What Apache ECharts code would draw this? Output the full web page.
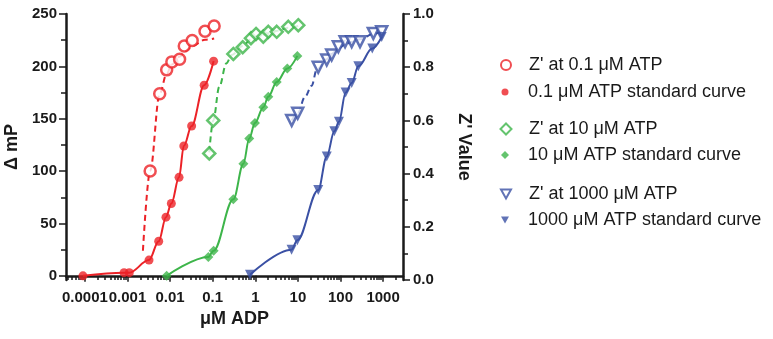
<!DOCTYPE html>
<html>
<head>
<meta charset="utf-8">
<script src="https://cdn.jsdelivr.net/npm/echarts@6/dist/echarts.min.js"></script>
<style>
  html, body { margin: 0; background: #fff; }
  #chart { width: 773px; height: 339px; }
</style>
</head>
<body>
<div id="chart"></div>
<script>
// axis ticks
const xTickValues = [0.0001, 0.001, 0.01, 0.1, 1, 10, 100, 1000];
const xTickLabels = ['0.0001', '0.001', '0.01', '0.1', '1', '10', '100', '1000'];
const leftTicks = [0, 50, 100, 150, 200, 250];
const leftMinorTicks = [25, 75, 125, 175, 225];

// 0.1 uM ATP
const redStdX = [0.00009, 0.00083, 0.0011, 0.0032, 0.0054, 0.008, 0.0107, 0.0162, 0.021, 0.032, 0.063, 0.105];
const redStdY = [0, 3, 3, 15, 33, 56, 69, 94, 124, 143, 182, 205];
const redZX = [0.0034, 0.0057, 0.0083, 0.011, 0.0167, 0.0215, 0.033, 0.066, 0.108];
const redZY = [0.41, 0.70, 0.79, 0.82, 0.83, 0.88, 0.90, 0.935, 0.955];
const redFitX = [0.0023, 0.0034, 0.0057, 0.0083, 0.011, 0.017, 0.022, 0.033, 0.066, 0.108];
const redFitY = [0.11, 0.41, 0.70, 0.775, 0.81, 0.84, 0.86, 0.88, 0.903, 0.908];

// 10 uM ATP
const greenStdX = [0.0083, 0.079, 0.105, 0.305, 0.525, 0.72, 0.98, 1.54, 2.02, 3.18, 5.64, 9.7];
const greenStdY = [0, 18, 24, 73, 107, 131, 146, 161, 171, 185, 198, 210];
const greenZX = [0.083, 0.103, 0.305, 0.506, 0.79, 1.04, 1.54, 2.02, 3.18, 5.95, 10.2];
const greenZY = [0.476, 0.60, 0.85, 0.875, 0.909, 0.925, 0.915, 0.933, 0.933, 0.952, 0.958];
const greenFitX = [0.083, 0.103, 0.143, 0.21, 0.28, 0.5, 0.8, 1.5, 3, 6, 10.2];
const greenFitY = [0.48, 0.60, 0.727, 0.815, 0.846, 0.88, 0.905, 0.922, 0.936, 0.948, 0.955];

// 1000 uM ATP
const blueStdX = [0.75, 7.1, 9.7, 30, 47.5, 71.6, 92, 132, 183, 262, 557, 927];
const blueStdY = [1, 25, 34, 82, 114, 138, 147, 175, 184, 200, 217, 228];
const blueZX = [7.15, 9.9, 30, 47.5, 62, 89, 128, 183, 287, 589, 927];
const blueZY = [0.60, 0.627, 0.80, 0.827, 0.846, 0.877, 0.896, 0.896, 0.896, 0.927, 0.933];
const blueFitX = [7.15, 9.9, 14.7, 21, 27.6, 47.5, 62, 89, 128, 183, 287, 589, 930];
const blueFitY = [0.60, 0.627, 0.689, 0.73, 0.79, 0.83, 0.85, 0.87, 0.885, 0.895, 0.905, 0.925, 0.935];

const RED = '#ec2227';
const GREEN = '#3db54a';
const BLUE = '#3a50a4';
const INK = '#1a1a1a';
const FONT = '"Liberation Sans", Arial, sans-serif';

const zip = (xs, ys) => xs.map((x, i) => [x, ys[i]]);

// minor log ticks 2..9 per decade
const xMinorTicks = [];
for (let k = -5; k <= 3; k++) {
  for (let d = 2; d <= 9; d++) {
    const v = d * Math.pow(10, k);
    if (v > 3.6e-5 && v < 2930) xMinorTicks.push(v);
  }
}

const curve = (data, yAxisIndex, color, dashed) => ({
  type: 'line',
  data: data,
  yAxisIndex: yAxisIndex,
  showSymbol: false,
  smooth: 0.35,
  smoothMonotone: 'x',
  silent: true,
  z: 2,
  lineStyle: { color: color, width: 2, type: dashed ? [6, 4] : 'solid' }
});

const marks = (name, data, yAxisIndex, symbol, size, color, open) => ({
  name: name,
  type: 'scatter',
  data: data,
  yAxisIndex: yAxisIndex,
  symbol: symbol,
  symbolSize: size,
  symbolRotate: symbol === 'triangle' ? 180 : 0,
  z: 3,
  itemStyle: open
    ? { color: '#fff', borderColor: color, borderWidth: 2.5 }
    : { color: color }
});

const names = [
  "Z' at 0.1 μM ATP", '0.1 μM ATP standard curve',
  "Z' at 10 μM ATP", '10 μM ATP standard curve',
  "Z' at 1000 μM ATP", '1000 μM ATP standard curve'
];
const legendRows = [65, 92, 129, 155, 194, 220];
const legendSizes = [10, 7, 11, 8, 10, 8];
const downTri = 'path://M0,0L10,0L5,9Z';
const legendIcons = ['circle', 'circle', 'diamond', 'diamond', downTri, downTri];
const legendIconX = 505;
const legendTextX = 528;

const chart = echarts.init(document.getElementById('chart'), null, { renderer: 'canvas' });

const option = {
  animation: false,
  backgroundColor: '#fff',
  grid: { left: 66, right: 370, top: 14, bottom: 59 },
  legend: names.map((n, i) => ({
    data: [{ name: n, icon: legendIcons[i] }],
    left: legendIconX - legendSizes[i] / 2,
    top: legendRows[i] - 9,
    padding: 0,
    itemWidth: legendSizes[i],
    itemHeight: legendSizes[i],
    selectedMode: false,
    textStyle: {
      fontSize: 18, fontFamily: FONT, color: INK, lineHeight: 18,
      padding: [0, 0, 0, legendTextX - (legendIconX + legendSizes[i] / 2 + 5)]
    }
  })),
  xAxis: [
    {
      type: 'log',
      logBase: 10,
      min: 3.6e-5,
      max: 2930,
      name: 'μM ADP',
      nameLocation: 'middle',
      nameGap: 30,
      nameTextStyle: { fontSize: 18, fontWeight: 'bold', fontFamily: FONT, color: INK },
      axisLine: { lineStyle: { color: INK, width: 2.5 } },
      axisTick: { customValues: xTickValues, length: 6, lineStyle: { color: INK, width: 1.5 } },
      axisLabel: {
        customValues: xTickValues,
        margin: 10,
        fontSize: 15,
        fontWeight: 'bold',
        fontFamily: FONT,
        color: INK,
        formatter: v => xTickLabels[Math.round(Math.log10(v)) + 4]
      },
      splitLine: { show: false }
    },
    {
      type: 'log',
      logBase: 10,
      min: 3.6e-5,
      max: 2930,
      axisLine: { show: false },
      axisTick: { customValues: xMinorTicks, length: 4, lineStyle: { color: INK, width: 1.5 } },
      axisLabel: { show: false },
      splitLine: { show: false }
    }
  ],
  yAxis: [
    {
      type: 'value',
      min: -4,
      max: 250,
      name: 'Δ mP',
      nameLocation: 'middle',
      nameGap: 45,
      nameTextStyle: { fontSize: 18, fontWeight: 'bold', fontFamily: FONT, color: INK },
      axisLine: { show: true, lineStyle: { color: INK, width: 2.5 } },
      axisTick: { show: true, customValues: leftTicks, length: 7, lineStyle: { color: INK, width: 1.5 } },
      axisLabel: { customValues: leftTicks, margin: 9, fontSize: 15, fontWeight: 'bold', fontFamily: FONT, color: INK },
      splitLine: { show: false }
    },
    {
      type: 'value',
      position: 'right',
      min: 0,
      max: 1,
      interval: 0.2,
      name: "Z' Value",
      nameLocation: 'middle',
      nameRotate: -90,
      nameGap: 52,
      nameTextStyle: { fontSize: 18, fontWeight: 'bold', fontFamily: FONT, color: INK },
      axisLine: { show: true, lineStyle: { color: INK, width: 2.5 } },
      axisTick: { show: true, length: 7, lineStyle: { color: INK, width: 1.5 } },
      minorTick: { show: true, splitNumber: 2, length: 5, lineStyle: { color: INK, width: 1.5 } },
      axisLabel: {
        margin: 10, fontSize: 15, fontWeight: 'bold', fontFamily: FONT, color: INK,
        formatter: v => v.toFixed(1)
      },
      splitLine: { show: false }
    },
    {
      type: 'value',
      position: 'left',
      min: -4,
      max: 250,
      axisLine: { show: false },
      axisTick: { show: true, customValues: leftMinorTicks, length: 5, lineStyle: { color: INK, width: 1.5 } },
      axisLabel: { show: false },
      splitLine: { show: false }
    }
  ],
  series: [
    curve(zip(redFitX, redFitY), 1, RED, true),
    curve(zip(redStdX, redStdY), 0, RED, false),
    curve(zip(greenFitX, greenFitY), 1, GREEN, true),
    curve(zip(greenStdX, greenStdY), 0, GREEN, false),
    curve(zip(blueFitX, blueFitY), 1, BLUE, true),
    curve(zip(blueStdX, blueStdY), 0, BLUE, false),
    marks(names[0], zip(redZX, redZY), 1, 'circle', 11, RED, true),
    marks(names[1], zip(redStdX, redStdY), 0, 'circle', 9, RED, false),
    marks(names[2], zip(greenZX, greenZY), 1, 'diamond', 12, GREEN, true),
    marks(names[3], zip(greenStdX, greenStdY), 0, 'diamond', 10, GREEN, false),
    marks(names[4], zip(blueZX, blueZY), 1, 'triangle', 11, BLUE, true),
    marks(names[5], zip(blueStdX, blueStdY), 0, 'triangle', 10, BLUE, false)
  ]
};

chart.setOption(option);
</script>
</body>
</html>
